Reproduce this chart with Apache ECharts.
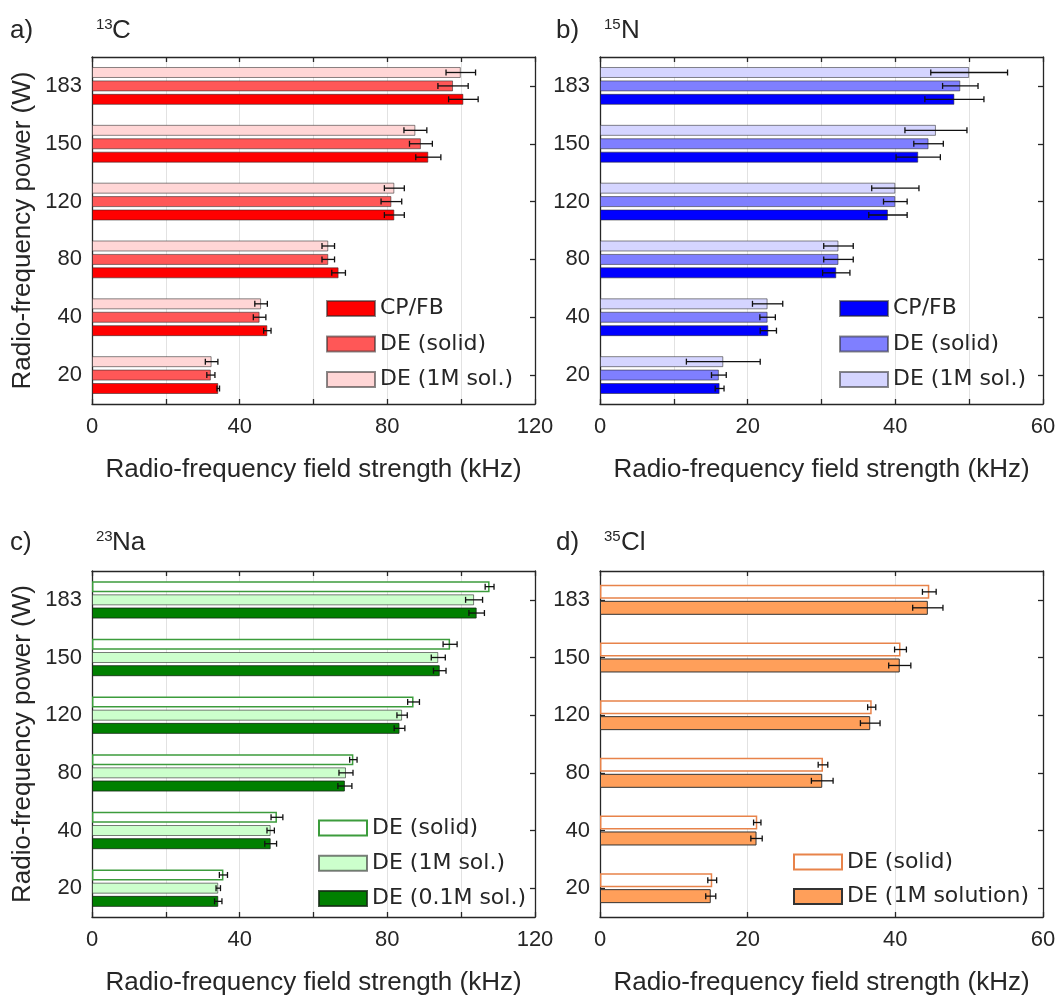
<!DOCTYPE html>
<html><head><meta charset="utf-8">
<script src="https://cdn.jsdelivr.net/npm/echarts@6/dist/echarts.min.js"></script>
<style>html,body{margin:0;padding:0;background:#fff}#c{width:1060px;height:997px}</style>
</head><body><div id="c"></div>
<script>
// categories (bottom to top), RF power in W
const categories = ['20', '40', '80', '120', '150', '183'];

// Panel a) 13C
const aCPFB = [34.2, 47.5, 66.8, 81.9, 91.1, 100.6];
const aCPFBErr = [0.35, 1.0, 1.85, 2.7, 3.4, 4.0];
const aSolid = [32.2, 45.4, 64.0, 81.1, 89.1, 97.8];
const aSolidErr = [1.1, 1.7, 1.7, 2.8, 3.1, 4.1];
const aSol = [32.4, 45.8, 64.0, 81.9, 87.6, 99.9];
const aSolErr = [1.7, 1.7, 1.7, 2.7, 3.1, 4.0];

// Panel b) 15N
const bCPFB = [16.2, 22.8, 32.0, 39.0, 43.1, 48.0];
const bCPFBErr = [0.6, 1.1, 1.85, 2.6, 3.0, 4.0];
const bSolid = [16.1, 22.7, 32.3, 40.0, 44.5, 48.8];
const bSolidErr = [1.0, 1.05, 2.0, 1.6, 2.0, 2.4];
const bSol = [16.7, 22.7, 32.3, 40.0, 45.5, 50.0];
const bSolErr = [5.0, 2.05, 2.0, 3.2, 4.2, 5.2];

// Panel c) 23Na
const cSolid = [35.6, 50.1, 70.8, 87.1, 97.0, 107.7];
const cSolidErr = [1.1, 1.6, 1.0, 1.6, 1.9, 1.2];
const cSol1 = [34.2, 48.4, 68.8, 84.0, 93.8, 103.5];
const cSol1Err = [0.6, 1.0, 1.9, 1.4, 1.9, 2.3];
const cSol01 = [34.2, 48.4, 68.5, 83.3, 94.2, 104.2];
const cSol01Err = [1.0, 1.6, 1.9, 1.45, 1.7, 2.1];

// Panel d) 35Cl
const dSolid = [15.2, 21.3, 30.2, 36.8, 40.7, 44.6];
const dSolidErr = [0.6, 0.5, 0.65, 0.55, 0.8, 0.93];
const dSol = [15.0, 21.2, 30.1, 36.6, 40.6, 44.4];
const dSolErr = [0.68, 0.77, 1.47, 1.33, 1.5, 2.05];

const xTitle = 'Radio-frequency field strength (kHz)';
const yTitle = 'Radio-frequency power (W)';

const TXT = '#262626';
const FONT = 'Liberation Sans';
const LFONT = 'DejaVu Sans';

const grids = [
  {left: 92, top: 57, width: 443, height: 347},
  {left: 600, top: 57, width: 443, height: 347},
  {left: 92, top: 571, width: 443, height: 350},
  {left: 600, top: 571, width: 443, height: 350}
];

const axisLine = {show: true, onZero: false, lineStyle: {color: TXT, width: 1.3}};
const axisTick = {show: true, inside: true, length: 5, lineStyle: {color: TXT, width: 1.3}};

const xAxis = [], yAxis = [];
function addAxes(gi, max, interval, labelEvery, withYName) {
  xAxis.push({
    type: 'value', gridIndex: gi, min: 0, max: max, interval: interval, position: 'bottom',
    axisLine: axisLine, axisTick: axisTick,
    axisLabel: {formatter: v => (v % labelEvery === 0 ? String(v) : ''), fontSize: 22, fontFamily: FONT, color: TXT, margin: 12},
    splitLine: {show: true, lineStyle: {color: '#e2e2e2', width: 1}},
    name: xTitle, nameLocation: 'middle', nameGap: 53,
    nameTextStyle: {fontSize: 26, fontFamily: FONT, color: TXT}
  });
  xAxis.push({
    type: 'value', gridIndex: gi, min: 0, max: max, interval: interval, position: 'top',
    axisLine: axisLine, axisTick: axisTick, axisLabel: {show: false}, splitLine: {show: false}
  });
  const yl = {
    type: 'category', gridIndex: gi, data: categories, position: 'left',
    axisLine: axisLine, axisTick: Object.assign({alignWithLabel: true}, axisTick),
    axisLabel: {fontSize: 22, fontFamily: FONT, color: TXT, margin: 10},
    splitLine: {show: false}
  };
  if (withYName) {
    yl.name = yTitle; yl.nameLocation = 'middle'; yl.nameRotate = 90; yl.nameGap = 56;
    yl.nameTextStyle = {fontSize: 26, fontFamily: FONT, color: TXT};
  }
  yAxis.push(yl);
  yAxis.push({
    type: 'category', gridIndex: gi, data: categories, position: 'right',
    axisLine: axisLine, axisTick: Object.assign({alignWithLabel: true}, axisTick),
    axisLabel: {show: false}, splitLine: {show: false}
  });
}
addAxes(0, 120, 20, 40, true);
addAxes(1, 60, 10, 20, false);
addAxes(2, 120, 20, 40, true);
addAxes(3, 60, 20, 20, false);

const series = [];
// defs listed top-to-bottom within each group (first series is drawn on top)
function addPanel(gi, defs, barW, gapFrac) {
  const n = defs.length;
  const total = n * barW + (n - 1) * barW * gapFrac;
  defs.forEach((d, k) => {
    series.push({
      type: 'bar', name: d.name, xAxisIndex: gi * 2, yAxisIndex: gi * 2,
      data: d.values, barWidth: barW, barGap: (gapFrac * 100) + '%',
      itemStyle: {color: d.color, borderColor: d.border, borderWidth: d.bw || 1},
      z: 2, silent: true
    });
    const off = -total / 2 + k * barW * (1 + gapFrac) + barW / 2;
    series.push({
      type: 'custom', xAxisIndex: gi * 2, yAxisIndex: gi * 2, z: 4, silent: true,
      data: d.values.map((v, i) => [v, i, d.err[i]]),
      encode: {x: 0, y: 1},
      renderItem: function (params, api) {
        const v = api.value(0), c = api.value(1), e = api.value(2);
        const p1 = api.coord([v - e, c]);
        const p2 = api.coord([v + e, c]);
        const y = p1[1] + off;
        const h = 3;
        const st = {stroke: d.errColor || '#111', lineWidth: 1.3};
        return {type: 'group', children: [
          {type: 'line', shape: {x1: p1[0], y1: y, x2: p2[0], y2: y}, style: st},
          {type: 'line', shape: {x1: p1[0], y1: y - h, x2: p1[0], y2: y + h}, style: st},
          {type: 'line', shape: {x1: p2[0], y1: y - h, x2: p2[0], y2: y + h}, style: st}
        ]};
      }
    });
  });
}
const edge = 'rgba(40,40,40,0.55)';
addPanel(0, [
  {name: 'a|DE (1M sol.)', values: aSol, err: aSolErr, color: '#ffd6d6', border: edge},
  {name: 'a|DE (solid)', values: aSolid, err: aSolidErr, color: '#ff5757', border: edge},
  {name: 'a|CP/FB', values: aCPFB, err: aCPFBErr, color: '#ff0000', border: edge}
], 11, 0.22);
addPanel(1, [
  {name: 'b|DE (1M sol.)', values: bSol, err: bSolErr, color: '#d5d5ff', border: edge},
  {name: 'b|DE (solid)', values: bSolid, err: bSolidErr, color: '#7f7fff', border: edge},
  {name: 'b|CP/FB', values: bCPFB, err: bCPFBErr, color: '#0000ff', border: edge}
], 11, 0.22);
addPanel(2, [
  {name: 'c|DE (solid)', values: cSolid, err: cSolidErr, color: '#ffffff', border: '#3c9c3c', bw: 1.5},
  {name: 'c|DE (1M sol.)', values: cSol1, err: cSol1Err, color: '#ccffcc', border: 'rgba(40,40,40,0.6)'},
  {name: 'c|DE (0.1M sol.)', values: cSol01, err: cSol01Err, color: '#008000', border: 'rgba(20,40,20,0.8)'}
], 11, 0.2);
addPanel(3, [
  {name: 'd|DE (solid)', values: dSolid, err: dSolidErr, color: '#ffffff', border: '#e8834a', bw: 1.5},
  {name: 'd|DE (1M solution)', values: dSol, err: dSolErr, color: '#ff9f5a', border: '#333333'}
], 14, 0.14);

function legend(names, left, top, gap) {
  return {
    data: names, orient: 'vertical', left: left, top: top, padding: 0,
    itemWidth: 48, itemHeight: 15, itemGap: gap, icon: 'rect',
    selectedMode: false,
    formatter: n => n.split('|')[1],
    textStyle: {fontFamily: LFONT, fontSize: 22, color: TXT, lineHeight: 22}
  };
}

function label(txt, x, y, size) {
  return {type: 'text', left: x, top: y, style: {text: txt, font: size + 'px "' + FONT + '"', fill: TXT}};
}

const option = {
  animation: false,
  backgroundColor: '#ffffff',
  grid: grids,
  xAxis: xAxis,
  yAxis: yAxis,
  legend: [
    legend(['a|CP/FB', 'a|DE (solid)', 'a|DE (1M sol.)'], 326, 297.5, 13.5),
    legend(['b|CP/FB', 'b|DE (solid)', 'b|DE (1M sol.)'], 839, 297.5, 13.5),
    legend(['c|DE (solid)', 'c|DE (1M sol.)', 'c|DE (0.1M sol.)'], 318, 817, 13.3),
    legend(['d|DE (solid)', 'd|DE (1M solution)'], 793, 851, 12.5)
  ],
  graphic: [
    label('a)', 10, 18, 26), label('13', 96, 17, 15), label('C', 112, 18, 26),
    label('b)', 556, 18, 26), label('15', 604, 17, 15), label('N', 621, 18, 26),
    label('c)', 10, 530, 26), label('23', 96, 529, 15), label('Na', 112, 530, 26),
    label('d)', 556, 530, 26), label('35', 604, 529, 15), label('Cl', 621, 530, 26)
  ],
  series: series
};

const chart = echarts.init(document.getElementById('c'), null, {renderer: 'canvas'});
chart.setOption(option);
</script>
</body></html>
